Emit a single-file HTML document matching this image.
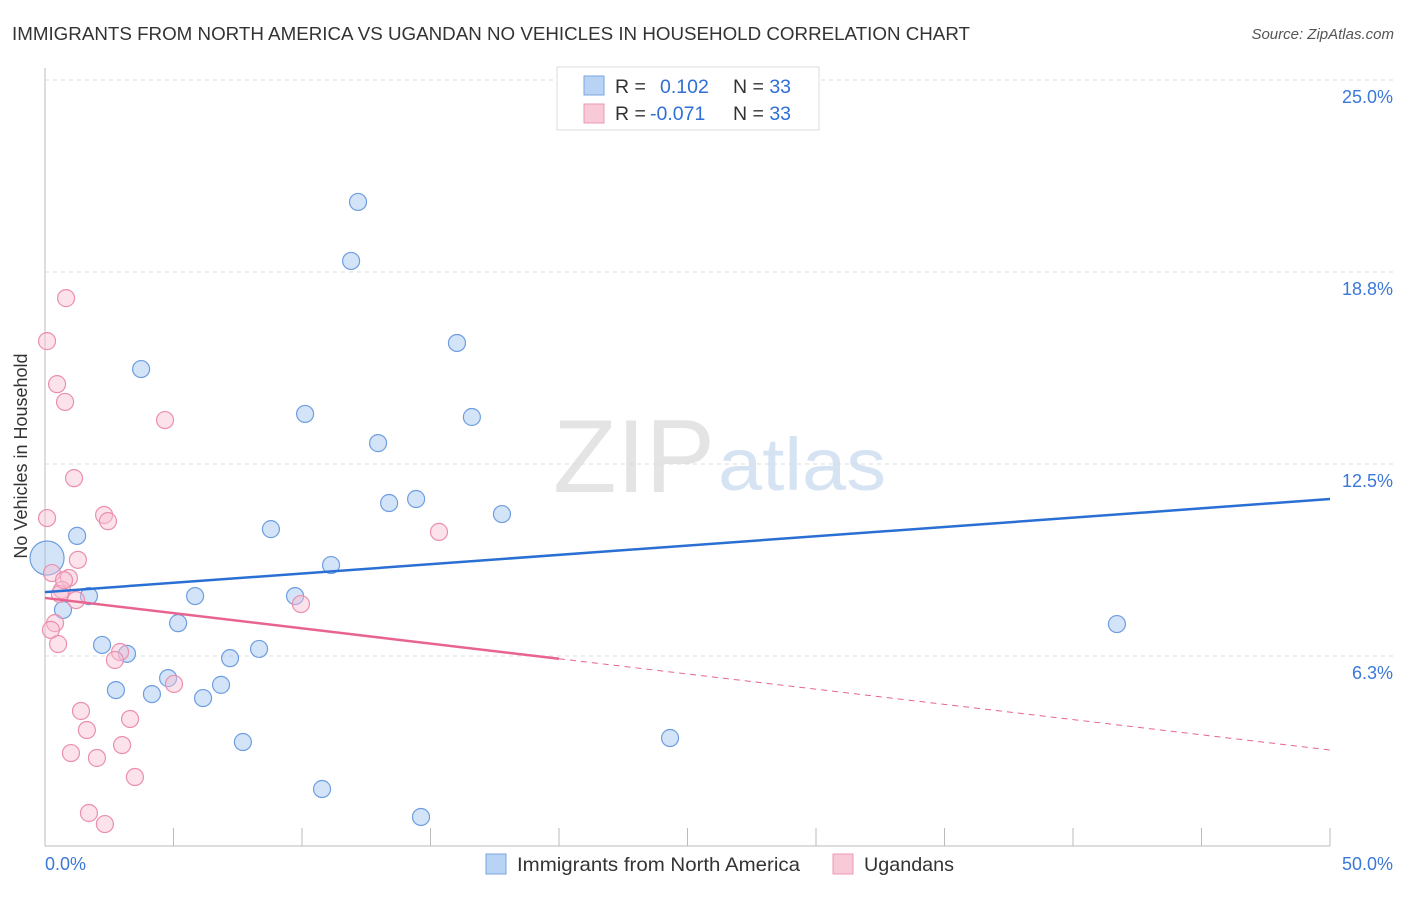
<!DOCTYPE html>
<html><head><meta charset="utf-8"><style>
body{margin:0;background:#fff;font-family:"Liberation Sans",sans-serif;}
svg text{font-family:"Liberation Sans",sans-serif;}
</style></head><body>
<svg id="chart" width="1406" height="892">
<text x="12" y="40" font-size="18.5" fill="#333" textLength="958" lengthAdjust="spacingAndGlyphs">IMMIGRANTS FROM NORTH AMERICA VS UGANDAN NO VEHICLES IN HOUSEHOLD CORRELATION CHART</text>
<text x="1394" y="39" font-size="15" fill="#555" text-anchor="end" font-style="italic">Source: ZipAtlas.com</text>
<text x="27" y="456" font-size="18" fill="#333" text-anchor="middle" transform="rotate(-90 27 456)">No Vehicles in Household</text>
<text x="553" y="492" font-size="104" fill="#e4e4e4" font-family="Liberation Serif" textLength="162" lengthAdjust="spacingAndGlyphs">ZIP</text>
<text x="718" y="490" font-size="74" fill="#d6e3f3" textLength="168" lengthAdjust="spacingAndGlyphs">atlas</text>
<g id="grid"></g><g id="marks"></g>
<g>
<rect x="557" y="67" width="262" height="63" fill="#fff" stroke="#ddd"/>
<rect x="584" y="76" width="20" height="19" fill="#b9d3f5" stroke="#7aa5e0"/>
<rect x="584" y="104" width="20" height="19" fill="#f8c9d7" stroke="#eb9ab3"/>
<text x="615" y="93" font-size="19.5" fill="#333">R = <tspan x="660" fill="#2f6fd6">0.102</tspan><tspan x="733" fill="#333">N = </tspan><tspan fill="#2f6fd6">33</tspan></text>
<text x="615" y="120" font-size="19.5" fill="#333">R = <tspan x="650" fill="#2f6fd6">-0.071</tspan><tspan x="733" fill="#333">N = </tspan><tspan fill="#2f6fd6">33</tspan></text>
</g>
<g>
<rect x="486" y="854" width="20" height="20" fill="#b9d3f5" stroke="#7aa5e0"/>
<text x="517" y="871" font-size="19.5" fill="#333" textLength="283" lengthAdjust="spacingAndGlyphs">Immigrants from North America</text>
<rect x="833" y="854" width="20" height="20" fill="#f8c9d7" stroke="#eb9ab3"/>
<text x="864" y="871" font-size="19.5" fill="#333" textLength="90" lengthAdjust="spacingAndGlyphs">Ugandans</text>
</g>
</svg>
<script>
const blueX=[12.18,11.91,16.03,3.74,10.12,16.61,12.96,13.39,14.44,17.78,8.79,1.25,0.08,11.13,1.71,5.84,9.73,0.70,5.18,2.22,3.19,8.33,7.20,4.79,6.85,2.76,4.16,6.15,7.70,24.32,10.78,14.63,41.71];
const blueY=[21.03,19.11,16.44,15.59,14.13,14.03,13.18,11.23,11.36,10.87,10.38,10.16,9.44,9.21,8.20,8.20,8.20,7.75,7.32,6.61,6.32,6.48,6.18,5.53,5.31,5.14,5.01,4.88,3.45,3.58,1.92,1.01,7.29];
const blueR=[8.5,8.5,8.5,8.5,8.5,8.5,8.5,8.5,8.5,8.5,8.5,8.5,17,8.5,8.5,8.5,8.5,8.5,8.5,8.5,8.5,8.5,8.5,8.5,8.5,8.5,8.5,8.5,8.5,8.5,8.5,8.5,8.5];
const pinkX=[0.82,0.08,0.47,0.78,4.67,1.13,0.08,2.30,2.45,1.28,0.27,0.93,0.66,0.58,1.21,0.39,0.23,0.51,9.96,15.33,2.92,2.72,5.02,1.40,1.63,3.31,1.01,3.00,2.02,3.50,1.71,2.33,0.74];
const pinkY=[17.90,16.50,15.10,14.52,13.93,12.04,10.74,10.84,10.64,9.38,8.95,8.79,8.40,8.27,8.07,7.32,7.10,6.64,7.94,10.29,6.38,6.12,5.34,4.46,3.84,4.20,3.09,3.35,2.93,2.31,1.14,0.78,8.72];
const blueTrend=[8.33,11.36];
const pinkTrend=[8.14,3.19];
const pinkSolidEnd=20;
const yTicks=[25,18.75,12.5,6.25];
const yTickLabels=["25.0%","18.8%","12.5%","6.3%"];
const xTicks=[0,5,10,15,20,25,30,35,40,45,50];
const NS="http://www.w3.org/2000/svg";
const X=v=>45+v*25.7, Y=v=>848-v*30.72;
function mk(tag,attrs,parent){const e=document.createElementNS(NS,tag);for(const k in attrs)e.setAttribute(k,attrs[k]);parent.appendChild(e);return e;}
const grid=document.getElementById('grid'), marks=document.getElementById('marks');
mk('line',{x1:45,y1:68,x2:45,y2:846,stroke:'#bbb'},grid);
mk('line',{x1:45,y1:846,x2:1330,y2:846,stroke:'#bbb'},grid);
yTicks.forEach((t,i)=>{
 const l=mk('line',{x1:45,y1:Y(t),x2:1394,y2:Y(t),stroke:'#ddd','stroke-dasharray':'4,4'},grid);
 
 
 const tx=mk('text',{x:1393,y:Y(t)+23,'font-size':18,fill:'#3b78d8','text-anchor':'end'},grid);
 tx.textContent=yTickLabels[i];
 
 
});
xTicks.forEach(t=>{
 const l=mk('line',{x1:X(t),y1:828,x2:X(t),y2:846,stroke:'#bbb'},grid);
 
 
});
const xl0=mk('text',{x:45,y:870,'font-size':18,fill:'#3b78d8'},grid);xl0.textContent='0.0%';


const xl1=mk('text',{x:1393,y:870,'font-size':18,fill:'#3b78d8','text-anchor':'end'},grid);xl1.textContent='50.0%';


blueX.forEach((v,i)=>{
 const c=mk('circle',{cx:X(v),cy:Y(blueY[i]),r:blueR[i],fill:'rgba(160,195,240,0.45)',stroke:'#6d9ee0','stroke-width':1.2},marks);
 
 
});
pinkX.forEach((v,i)=>{
 const c=mk('circle',{cx:X(v),cy:Y(pinkY[i]),r:8.5,fill:'rgba(248,190,210,0.45)',stroke:'#eb8fae','stroke-width':1.2},marks);
 
 
});
const bl=mk('line',{x1:X(0),y1:Y(blueTrend[0]),x2:X(50),y2:Y(blueTrend[1]),stroke:'#2a6fd4','stroke-width':2.5},marks);


const pAt=x=>pinkTrend[0]+(pinkTrend[1]-pinkTrend[0])*x/50;
const pl=mk('line',{x1:X(0),y1:Y(pinkTrend[0]),x2:X(pinkSolidEnd),y2:Y(pAt(pinkSolidEnd)),stroke:'#e8648f','stroke-width':2.5},marks);


const pd=mk('line',{x1:X(pinkSolidEnd),y1:Y(pAt(pinkSolidEnd)),x2:X(50),y2:Y(pinkTrend[1]),stroke:'#e8648f','stroke-width':1,'stroke-dasharray':'6,5'},marks);


</script>
</body></html>
